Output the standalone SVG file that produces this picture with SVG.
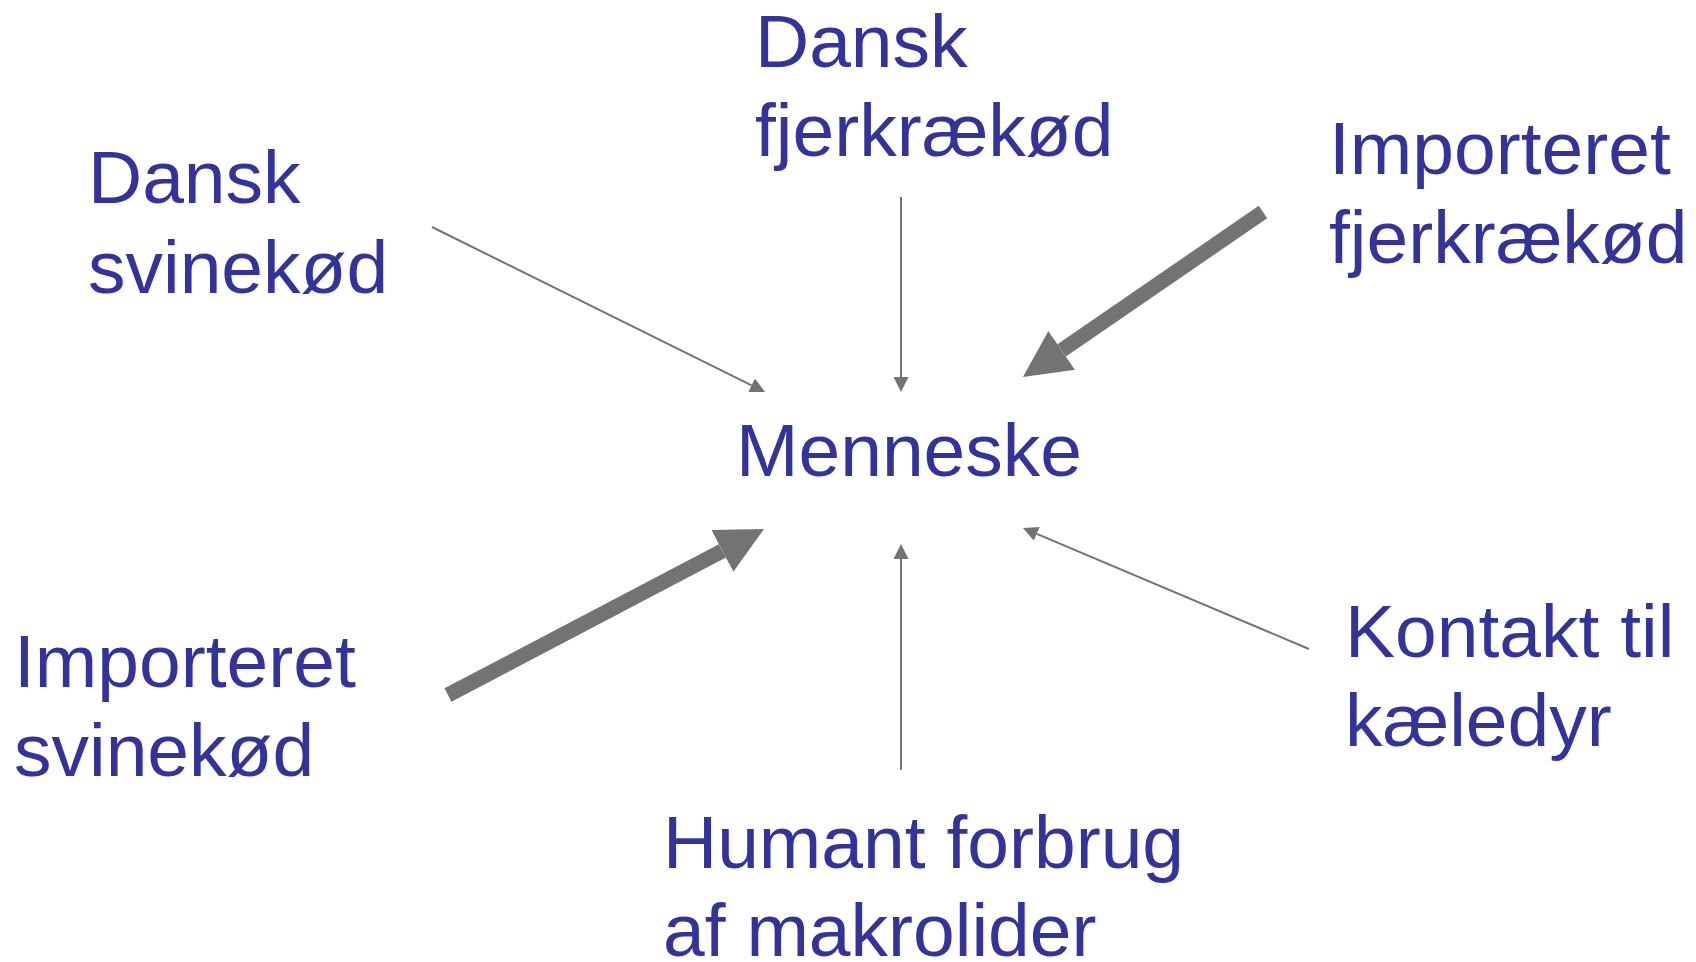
<svg xmlns="http://www.w3.org/2000/svg" width="1696" height="962" viewBox="0 0 1696 962">
  <style>
    .lbl { font-family: "Liberation Sans", Arial, sans-serif; font-size: 75px; fill: #333399; }
    .thin { stroke: #737373; stroke-width: 2; fill: none; marker-end: url(#headThin); }
    .thick { stroke: #737373; stroke-width: 15; fill: none; marker-end: url(#headThick); }
  </style>
  <defs>
    <marker id="headThin" markerUnits="userSpaceOnUse" viewBox="0 0 15 15" markerWidth="15" markerHeight="15" refX="0" refY="7.5" orient="auto">
      <path d="M0,0 L15,7.5 L0,15 z" fill="#737373"/>
    </marker>
    <marker id="headThick" markerUnits="userSpaceOnUse" viewBox="0 0 47 47" markerWidth="47" markerHeight="47" refX="0" refY="23.5" orient="auto">
      <path d="M0,0 L47,23.5 L0,47 z" fill="#737373"/>
    </marker>
  </defs>
  <rect width="1696" height="962" fill="#ffffff"/>

  <g id="connectors">
    <line class="thin" x1="432" y1="227" x2="751.6" y2="385.3"/>
    <line class="thin" x1="901" y1="197" x2="901" y2="377"/>
    <line class="thick" x1="1263" y1="212" x2="1061.7" y2="350.4"/>
    <line class="thick" x1="448" y1="695" x2="722.4" y2="550.9"/>
    <line class="thin" x1="901" y1="770" x2="901" y2="559"/>
    <line class="thin" x1="1309" y1="649" x2="1036.8" y2="533.9"/>
  </g>

  <g id="node-dansk-svinekod">
    <text class="lbl" x="88" y="203">Dansk</text>
    <text class="lbl" x="88" y="293">svinekød</text>
  </g>
  <g id="node-dansk-fjerkraekod">
    <text class="lbl" x="755" y="67">Dansk</text>
    <text class="lbl" x="755" y="156">fjerkrækød</text>
  </g>
  <g id="node-importeret-fjerkraekod">
    <text class="lbl" x="1329" y="174">Importeret</text>
    <text class="lbl" x="1329" y="263">fjerkrækød</text>
  </g>
  <g id="node-menneske">
    <text class="lbl" x="736" y="476">Menneske</text>
  </g>
  <g id="node-importeret-svinekod">
    <text class="lbl" x="14" y="687">Importeret</text>
    <text class="lbl" x="14" y="776">svinekød</text>
  </g>
  <g id="node-kaeledyr">
    <text class="lbl" x="1345" y="657">Kontakt til</text>
    <text class="lbl" x="1345" y="746">kæledyr</text>
  </g>
  <g id="node-makrolider">
    <text class="lbl" x="663" y="868">Humant forbrug</text>
    <text class="lbl" x="663" y="956">af makrolider</text>
  </g>
</svg>
